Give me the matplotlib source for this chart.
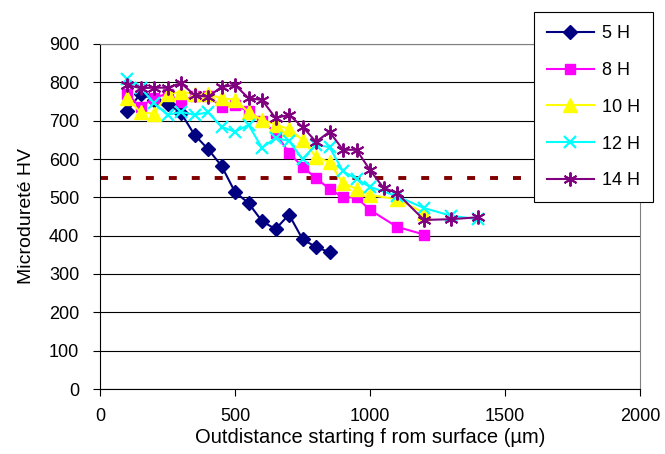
import matplotlib
matplotlib.use("Agg")
import matplotlib.pyplot as plt
import numpy as np

plt.rcParams['font.family'] = ['Liberation Sans', 'DejaVu Sans']

x_5h = [100, 150, 200, 250, 300, 350, 400, 450, 500, 550, 600, 650, 700, 750, 800, 850]
y_5h = [725, 770, 755, 744, 720, 663, 626, 582, 514, 485, 438, 417, 455, 391, 370, 357]

x_8h = [100, 150, 200, 250, 300, 350, 400, 450, 500, 550, 600, 650, 700, 750, 800, 850, 900, 950, 1000, 1100, 1200]
y_8h = [770, 735, 760, 770, 750, 765, 765, 736, 740, 725, 700, 668, 616, 580, 550, 522, 500, 500, 467, 423, 403]

x_10h = [100, 150, 200, 250, 300, 350, 400, 450, 500, 550, 600, 650, 700, 750, 800, 850, 900, 950, 1000, 1100, 1200]
y_10h = [760, 722, 718, 770, 775, 770, 770, 758, 755, 722, 702, 690, 678, 650, 605, 592, 537, 522, 506, 495, 460]

x_12h = [100, 150, 200, 250, 300, 350, 400, 450, 500, 550, 600, 650, 700, 750, 800, 850, 900, 950, 1000, 1100, 1200, 1300, 1400]
y_12h = [810, 786, 746, 715, 723, 715, 722, 684, 671, 689, 629, 655, 647, 600, 637, 631, 568, 548, 527, 503, 472, 452, 443]

x_14h = [100, 150, 200, 250, 300, 350, 400, 450, 500, 550, 600, 650, 700, 750, 800, 850, 900, 950, 1000, 1050, 1100, 1200, 1300, 1400]
y_14h = [793, 785, 786, 786, 798, 767, 762, 788, 793, 759, 754, 707, 715, 684, 645, 671, 624, 624, 571, 525, 511, 441, 443, 448]

threshold = 550
labels = ['5 H', '8 H', '10 H', '12 H', '14 H']

fig = plt.figure(figsize=(6.65, 4.54), dpi=100)
ax = fig.add_axes([100/665, 1-389/454, 540/665, 345/454])

ax.plot(x_5h, y_5h, color='#000080', lw=1.5, marker='D', ms=7, label=labels[0], zorder=3)
ax.plot(x_8h, y_8h, color='#FF00FF', lw=1.5, marker='s', ms=7.5, label=labels[1], zorder=3)
ax.plot(x_10h, y_10h, color='#FFFF00', lw=1.5, marker='^', ms=9.5, label=labels[2], zorder=3)
ax.plot(x_12h, y_12h, color='#00FFFF', lw=1.5, marker='x', ms=9, mew=1.6, label=labels[3], zorder=3)
ax.plot(x_14h, y_14h, color='#800080', lw=1.5, marker=(6, 2, 0), ms=10, mew=1.4, label=labels[4], zorder=3)

ax.plot([0, 2000], [threshold, threshold], color='#800000', lw=2.8, ls=(0, (2.05, 3.85)), zorder=2)

ax.set_xlim(0, 2000)
ax.set_ylim(0, 900)
ax.set_xticks([0, 500, 1000, 1500, 2000])
ax.set_yticks(np.arange(0, 901, 100))
ax.yaxis.grid(True, color='black', lw=0.8)
ax.set_axisbelow(True)
for s in ['top', 'right']:
    ax.spines[s].set_color('#808080')
for s in ['left', 'bottom']:
    ax.spines[s].set_color('black')
ax.tick_params(axis='both', direction='out', length=5, width=0.8, labelsize=13)
ax.tick_params(axis='x', pad=9)
ax.tick_params(axis='y', pad=10)

ax.set_xlabel('Outdistance starting f rom surface (µm)', fontsize=14.5, labelpad=1.5)
ax.set_ylabel('Microdureté HV', fontsize=14, labelpad=10)

leg = ax.legend(loc='upper left', bbox_to_anchor=(534/665, 1-12/454), bbox_transform=fig.transFigure,
                frameon=True, fancybox=False, edgecolor='black', fontsize=13,
                handlelength=2.6, labelspacing=1.1, borderpad=0.72, handletextpad=0.45,
                borderaxespad=0, framealpha=1)
leg.get_frame().set_linewidth(0.8)

fig.savefig('out.png', dpi=100)
